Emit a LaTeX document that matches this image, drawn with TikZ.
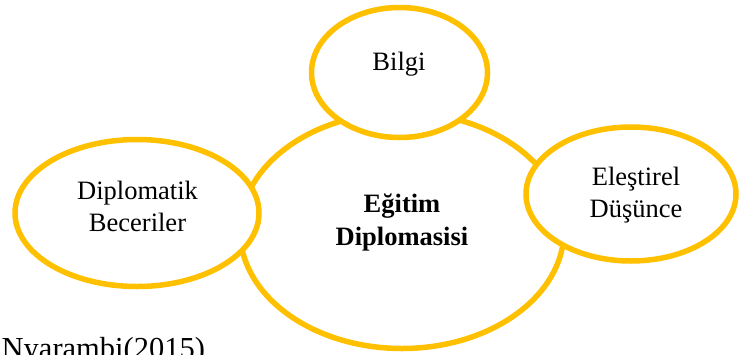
\documentclass[tikz,border=0pt]{standalone}
\usepackage{fontspec}
\setmainfont{Liberation Serif}
\usetikzlibrary{shapes.geometric}
\definecolor{ring}{HTML}{FFC000}
\tikzset{
  ring/.style={ellipse, draw=ring, line width=5.5pt, fill=white, inner sep=0pt, outer sep=0pt},
  lbl/.style={anchor=base, inner sep=0pt, font=\fontsize{26.5}{32}\selectfont},
  blbl/.style={lbl, font=\fontsize{26.5}{32}\selectfont\bfseries},
}
\begin{document}
\begin{tikzpicture}[x=1pt,y=-1pt]
\useasboundingbox (0,0) rectangle (739,354);
\clip (0,0) rectangle (739,354);
% central ellipse
\node[ring, minimum width=324pt, minimum height=236pt] (center) at (402,230.5) {};
% satellites
\node[ring, minimum width=176pt, minimum height=130pt] (bilgi) at (399.5,72.5) {};
\node[ring, minimum width=244pt, minimum height=147pt] (dipl) at (137,213) {};
\node[ring, minimum width=210pt, minimum height=134pt] (eles) at (631,194) {};
% labels
\node[lbl] (tbilgi) at (399,70) {Bilgi};
\node[blbl] (tc1) at (402,212) {Eğitim};
\node[blbl] (tc2) at (402,245) {Diplomasisi};
\node[lbl] (td1) at (137.5,199) {Diplomatik};
\node[lbl] (td2) at (137.5,231) {Beceriler};
\node[lbl] (te1) at (636,185) {Eleştirel};
\node[lbl] (te2) at (636,217) {Düşünce};
\node[anchor=base west, inner sep=0pt, font=\fontsize{30.5}{36}\selectfont] (src) at (1.5,358) {Nyarambi(2015)};
\end{tikzpicture}
\end{document}
